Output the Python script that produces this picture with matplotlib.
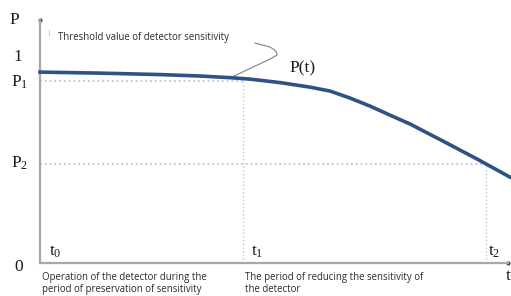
import numpy as np
import matplotlib.pyplot as plt

# curve P(t) (t in arbitrary units, P relative)
t_vals = [0.0, 0.6, 1.2, 1.6, 1.9, 2.1, 2.4, 2.7, 2.9, 3.1, 3.3, 3.5, 3.7,
          4.03, 4.37, 4.7]
p_vals = [0.927, 0.922, 0.915, 0.908, 0.900, 0.893, 0.876, 0.854, 0.835,
          0.801, 0.762, 0.718, 0.675, 0.592, 0.505, 0.417]

T1 = 2.03
T2 = 4.46
P1 = 0.883
P2 = 0.48

# callout line from the curve to the threshold note
callout_t = [1.92, 2.15, 2.30, 2.37, 2.36, 2.30, 2.15]
callout_p = [0.903, 0.956, 0.990, 1.010, 1.029, 1.049, 1.068]

plt.rcParams['mathtext.fontset'] = 'custom'
plt.rcParams['mathtext.rm'] = 'Liberation Serif'
plt.rcParams['mathtext.it'] = 'Liberation Serif:italic'
plt.rcParams['mathtext.bf'] = 'Liberation Serif:bold'

W, H = 511, 296
fig = plt.figure(figsize=(W / 100, H / 100), dpi=100)
ax = fig.add_axes([40 / W, 33 / H, 470 / W, 243 / H])
ax.set_xlim(0, 4.7)
ax.set_ylim(0, 1.18)

axis_col = '#a8a8a8'
grid_col = '#b9c5d8'
for s in ['top', 'right']:
    ax.spines[s].set_visible(False)
for s in ['left', 'bottom']:
    ax.spines[s].set_color(axis_col)
    ax.spines[s].set_linewidth(1.6)
ax.spines['bottom'].set_bounds(0, 4.68)
ax.set_xticks([])
ax.set_yticks([])
ax.patch.set_alpha(0)

# reference lines
ax.plot([0, T1], [P1, P1], ls=':', color=grid_col, lw=1.3)
ax.plot([T1, T1], [0, P1], ls=':', color=grid_col, lw=1.0)
ax.plot([0, T2], [P2, P2], ls=':', color=grid_col, lw=1.3)
ax.plot([T2, T2], [0, P2], ls=':', color=grid_col, lw=1.0)

# main curve
ax.plot(t_vals, p_vals, color='#2d5284', lw=2.6, solid_joinstyle='round',
        clip_on=False, zorder=5)

# callout
ax.plot(callout_t, callout_p, color='#8c8c8c', lw=0.9, clip_on=False)
ax.plot([0.09, 0.09], [1.105, 1.13], color='#cccccc', lw=0.8, clip_on=False)

# axis end dots
ax.plot([0], [1.18], 'o', ms=2, color='#444444', clip_on=False)
ax.plot([4.68], [0], 'o', ms=2, color='#444444', clip_on=False)

serif = dict(family='Liberation Serif', fontsize=12.5, color='#1a1a1a',
             clip_on=False)
sans = dict(family='Open Sans', fontsize=6.9, color='#2a2a2a', clip_on=False)


def px(x, y):
    # position given in picture pixels -> data coordinates
    return (x - 40) / 100, (263 - y) / 206


ax.text(*px(14, 20), 'P', ha='center', va='center', **serif)
ax.text(*px(18, 57), '1', ha='center', va='center', **serif)
ax.text(*px(20, 82), r'P$_{\rm 1}$', ha='center', va='center', **serif)
ax.text(*px(20, 163), r'P$_{\rm 2}$', ha='center', va='center', **serif)
ax.text(*px(19, 267), '0', ha='center', va='center', **serif)
ax.text(*px(55, 252), r't$_{\rm 0}$', ha='center', va='center', **serif)
ax.text(*px(257, 252), r't$_{\rm 1}$', ha='center', va='center', **serif)
ax.text(*px(494, 252), r't$_{\rm 2}$', ha='center', va='center', **serif)
ax.text(*px(508, 276), 't', ha='center', va='center', **serif)
ax.text(*px(303, 68), 'P(t)', ha='center', va='center', **serif)

ax.text(*px(58, 37), 'Threshold value of detector sensitivity',
        ha='left', va='center', **sans)
ax.text(*px(42, 278), 'Operation of the detector during the',
        ha='left', va='center', **sans)
ax.text(*px(42, 290), 'period of preservation of sensitivity',
        ha='left', va='center', **sans)
ax.text(*px(245, 278), 'The period of reducing the sensitivity of',
        ha='left', va='center', **sans)
ax.text(*px(245, 290), 'the detector',
        ha='left', va='center', **sans)

fig.savefig('out.png', dpi=100)
